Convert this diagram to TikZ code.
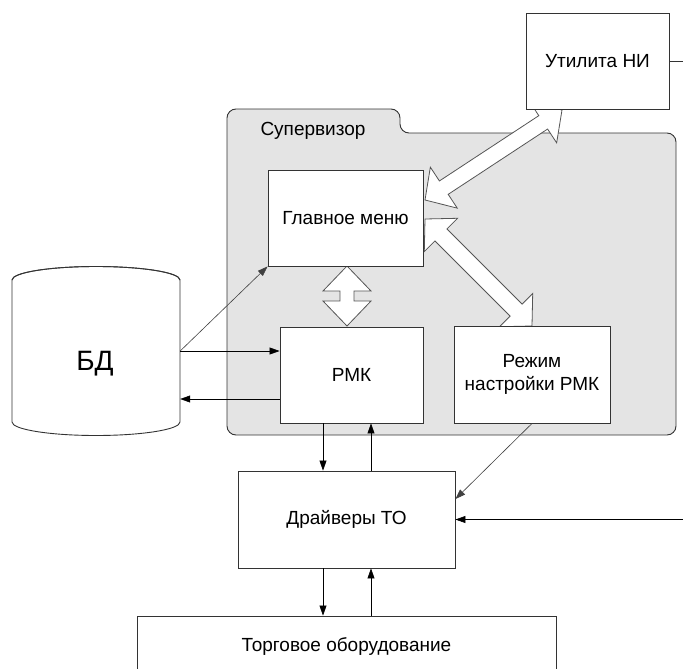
\documentclass[tikz,border=0pt]{standalone}
\usepackage{fontspec}
\setmainfont{Liberation Sans}
\usetikzlibrary{calc,arrows.meta}

\definecolor{supfill}{HTML}{E4E4E4}
\definecolor{edge}{HTML}{333333}
\definecolor{hollowedge}{HTML}{555555}

\tikzset{
  block/.style={draw=edge, line width=0.9pt, fill=white, inner sep=0pt,
                font=\fontsize{19}{23}\selectfont, align=center},
  conn/.style={draw=black, line width=0.6pt,
               -{Triangle[length=10pt,width=7pt]}},
  hollow/.style={draw=hollowedge, line width=0.8pt, fill=white, line join=miter},
}

% fat two-headed arrow: #1 tip A, #2 tip B, #3 shaft half width,
% #4 head half width, #5 head length
\newcommand{\fatdarrow}[5]{%
  \path (#1) coordinate (fa1) (#2) coordinate (fa2);
  \path ($(fa1)!#5!(fa2)$) coordinate (fb1) ($(fa2)!#5!(fa1)$) coordinate (fb2);
  \draw[hollow] (fa1)
    -- ($(fb1)!#4!90:(fa2)$) -- ($(fb1)!#3!90:(fa2)$)
    -- ($(fb2)!#3!-90:(fa1)$) -- ($(fb2)!#4!-90:(fa1)$)
    -- (fa2)
    -- ($(fb2)!#4!90:(fa1)$) -- ($(fb2)!#3!90:(fa1)$)
    -- ($(fb1)!#3!-90:(fa2)$) -- ($(fb1)!#4!-90:(fa2)$)
    -- cycle;
}

\begin{document}
\begin{tikzpicture}[x=1pt,y=-1pt]
\useasboundingbox (0,0) rectangle (683,669);
\clip (0,0) rectangle (683,669);

% Supervisor folder
\draw[draw=edge, line width=0.9pt, fill=supfill, rounded corners=9pt]
  (227,435) -- (227,109) -- (400,109) -- (400,133) -- (676,133) -- (676,435) -- cycle;
\node[font=\fontsize{19}{23}\selectfont] (sup) at (313,131) {Супервизор};

% hollow double arrows
\coordinate (h1a) at (425,200);
\coordinate (h1b) at (562,110);
\coordinate (h2a) at (347,266);
\coordinate (h2b) at (347,326);
\coordinate (h3a) at (425,219);
\coordinate (h3b) at (532,326);
\fatdarrow{h1a}{h1b}{8pt}{24.5pt}{22.5pt}
\fatdarrow{h2a}{h2b}{7pt}{24pt}{25pt}
\fatdarrow{h3a}{h3b}{8.5pt}{23.5pt}{22.5pt}

% Database cylinder
\node[inner sep=0pt, minimum width=168pt, minimum height=170pt] (db) at (96,351) {};
\draw[draw=edge, line width=0.9pt, fill=white]
  (12,280) -- (12,422) arc[start angle=180, end angle=360, x radius=84, y radius=-13.5]
  -- (180,280) arc[start angle=0, end angle=180, x radius=84, y radius=-13.5] -- cycle;
\draw[draw=edge, line width=0.9pt]
  (12,280) arc[start angle=180, end angle=360, x radius=84, y radius=13.5];
\node[font=\fontsize{28}{32}\selectfont] (dbl) at (95,364) {БД};

% Blocks
\node[block, minimum width=143pt, minimum height=96pt] (ut)  at (597.5,61) {Утилита НИ};
\node[block, minimum width=155pt, minimum height=96pt] (gm)  at (345.5,218) {Главное меню};
\node[block, minimum width=143pt, minimum height=96pt] (rmk) at (351.5,375) {РМК};
\node[block, minimum width=156pt, minimum height=97pt] (rez) at (532,374.5) {Режим\\настройки РМК};
\node[block, minimum width=217pt, minimum height=97pt] (drv) at (346.5,519.5) {Драйверы ТО};
\node[block, minimum width=419pt, minimum height=60pt] (trg) at (346.5,646) {Торговое оборудование};

% Connectors
\coordinate (rightA) at (683,61);
\coordinate (rightB) at (683,519.5);
\draw[draw=edge, line width=0.6pt] (ut.east) -- (rightA);
\draw[conn, draw=black!75] (db.east) -- (gm.south west);
\draw[conn] (db.east) -- (rmk.west |- db.east);
\draw[conn] (rmk.west |- 0,399) -- (db.east |- 0,399);
\draw[conn] (rmk.south -| 323,0) -- (drv.north -| 323,0);
\draw[conn] (drv.north -| 371,0) -- (rmk.south -| 371,0);
\draw[conn, draw=black!75] (rez.south) -- (drv.east |- 0,499);
\draw[conn] (rightB) -- (drv.east);
\draw[conn] (drv.south -| 323,0) -- (trg.north -| 323,0);
\draw[conn] (trg.north -| 371,0) -- (drv.south -| 371,0);
\end{tikzpicture}
\end{document}
